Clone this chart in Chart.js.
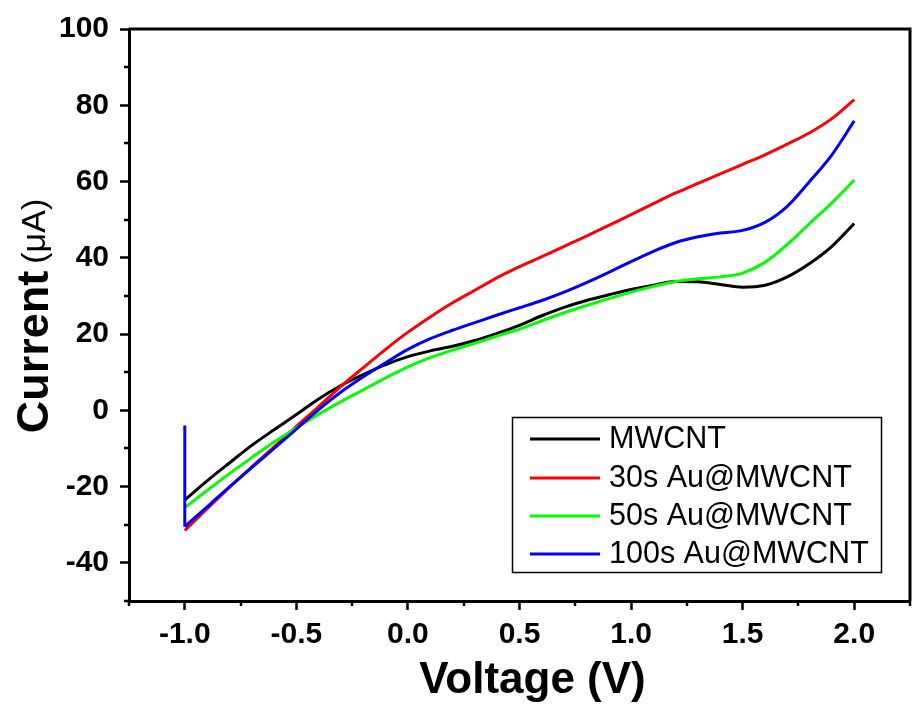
<!DOCTYPE html>
<html><head><meta charset="utf-8">
<script src="https://cdn.jsdelivr.net/npm/chart.js@4.4.1/dist/chart.umd.min.js"></script>
<style>html,body{margin:0;padding:0;background:#fff;}#wrap{width:916px;height:716px;}</style>
</head><body><div id="wrap"><canvas id="c" width="916" height="716"></canvas></div>
<script>
// ---- data ----
const voltage = [-1.0,-0.9,-0.8,-0.7,-0.6,-0.5,-0.4,-0.3,-0.2,-0.1,0.0,0.1,0.2,0.3,0.4,0.5,0.6,0.7,0.8,0.9,1.0,1.1,1.2,1.3,1.4,1.5,1.6,1.7,1.8,1.9,2.0];
const mwcnt = [-23.5,-18.5,-13.8,-9.2,-5.1,-1.1,3.0,6.5,9.4,12.0,14.1,15.6,16.8,18.3,20.2,22.3,24.8,27.0,28.8,30.3,31.7,32.8,33.8,33.7,33.0,32.3,32.8,35.0,38.5,43.0,49.0];
const au30 = [-31.5,-25.8,-20.2,-14.8,-9.6,-4.2,1.0,6.3,11.2,16.0,20.5,24.5,28.2,31.5,34.8,37.7,40.3,43.0,45.7,48.5,51.3,54.2,57.0,59.5,62.0,64.5,67.0,69.8,72.8,76.5,81.5];
const au50 = [-25.5,-21.0,-16.6,-12.4,-8.3,-4.6,-1.0,2.3,5.4,8.5,11.4,13.8,15.8,17.6,19.5,21.3,23.5,25.6,27.5,29.3,31.0,32.5,33.8,34.5,35.0,36.0,38.8,43.5,49.0,54.4,60.4];
const au100 = [-30.5,-25.3,-20.1,-15.0,-10.0,-4.9,0.2,4.8,8.8,12.5,16.0,18.8,21.0,23.0,25.0,26.9,28.8,31.0,33.5,36.2,39.0,41.7,44.0,45.5,46.5,47.2,49.3,53.5,60.0,67.0,75.9];
const au100StartV = [-1.0,-1.0];
const au100StartI = [-4.0,-30.5];
const seriesNames = ['MWCNT','30s Au@MWCNT','50s Au@MWCNT','100s Au@MWCNT'];
const seriesColors = ['#000000','#ff0000','#00ff00','#0000ff'];
const xTicks = [-1.0,-0.5,0.0,0.5,1.0,1.5,2.0];
const xMinor = [-1.25,-0.75,-0.25,0.25,0.75,1.25,1.75,2.25];
const yTicks = [-40,-20,0,20,40,60,80,100];
const yMinor = [-50,-30,-10,10,30,50,70,90];
const xTitle = 'Voltage (V)';
const yTitleMain = 'Current';
const yTitleUnit = '(\u03BCA)';

const pts = (xs, ys) => xs.map((v,i)=>({x:v,y:ys[i]}));
const seriesData = [mwcnt, au30, au50, au100];

const FONT = '"Liberation Sans", Arial, sans-serif';

const decor = {
  id:'decor',
  afterDraw(chart){
    const {ctx, chartArea:a, scales:{x,y}} = chart;
    ctx.save();
    ctx.strokeStyle = '#000';
    ctx.lineWidth = 3;
    ctx.beginPath();
    ctx.moveTo(a.left, a.top); ctx.lineTo(a.right, a.top); ctx.lineTo(a.right, a.bottom);
    ctx.stroke();
    ctx.lineWidth = 2.5;
    yMinor.forEach(v=>{const py=Math.round(y.getPixelForValue(v)); ctx.beginPath(); ctx.moveTo(a.left,py); ctx.lineTo(a.left-5,py); ctx.stroke();});
    xMinor.forEach(v=>{const px=Math.round(x.getPixelForValue(v)); ctx.beginPath(); ctx.moveTo(px,a.bottom); ctx.lineTo(px,a.bottom+5); ctx.stroke();});
    // axis titles
    ctx.fillStyle = '#000';
    ctx.textBaseline = 'middle';
    ctx.textAlign = 'center';
    ctx.font = 'bold 44px ' + FONT;
    ctx.fillText(xTitle, (a.left+a.right)/2 + 13, 681);
    ctx.save();
    ctx.translate(36, 316);
    ctx.rotate(-Math.PI/2);
    ctx.textAlign = 'left';
    const f1 = 'bold 45px ' + FONT, f2 = '34px ' + FONT;
    const gap = 7;
    ctx.font = f1; const w1 = ctx.measureText(yTitleMain).width;
    ctx.font = f2; const w2 = ctx.measureText(yTitleUnit).width;
    const sx = -(w1+gap+w2)/2;
    ctx.font = f1; ctx.fillText(yTitleMain, sx, 0);
    ctx.font = f2; ctx.fillText(yTitleUnit, sx + w1 + gap, 0);
    ctx.restore();
    // legend
    ctx.lineWidth = 1.5;
    ctx.strokeRect(512.5, 417.5, 369, 155);
    ctx.font = '30.5px ' + FONT;
    ctx.textAlign = 'left';
    const rows = [439, 478, 516, 554];
    seriesNames.forEach((n,i)=>{
      ctx.strokeStyle = seriesColors[i];
      ctx.lineWidth = 3;
      ctx.beginPath(); ctx.moveTo(530, rows[i]); ctx.lineTo(600, rows[i]); ctx.stroke();
      ctx.fillStyle = '#000';
      ctx.fillText(n, 609, rows[i] + 1);
    });
    ctx.restore();
  }
};

const main = seriesNames.map((n,i)=>({
  label:n, data:pts(voltage, seriesData[i]), borderColor:seriesColors[i], borderWidth:3,
  pointRadius:0, cubicInterpolationMode:'monotone', fill:false, order:4-i
}));
const spike = {label:'100s start', data:pts(au100StartV, au100StartI), borderColor:seriesColors[3], borderWidth:3, pointRadius:0, tension:0, fill:false, order:0};

new Chart(document.getElementById('c'), {
  type:'line',
  data:{datasets:[...main, spike]},
  options:{
    responsive:false, animation:false, devicePixelRatio:1,
    layout:{padding:{top:29, right:6, left:0, bottom:0}},
    plugins:{legend:{display:false}, tooltip:{enabled:false}},
    scales:{
      x:{type:'linear', min:-1.25, max:2.25,
        afterBuildTicks:(s)=>{s.ticks = xTicks.map(v=>({value:v}));},
        afterFit:(s)=>{s.height = 115;},
        ticks:{autoSkip:false, maxRotation:0, padding:7, color:'#000', font:{family:FONT, size:30, weight:'bold'}, callback:(v)=>Number(v).toFixed(1)},
        grid:{drawOnChartArea:false, drawTicks:true, tickLength:9, tickWidth:2.5, tickColor:'#000'},
        border:{display:true, color:'#000', width:3}
      },
      y:{type:'linear', min:-50, max:100,
        afterBuildTicks:(s)=>{s.ticks = yTicks.map(v=>({value:v}));},
        afterFit:(s)=>{s.width = 129;},
        ticks:{autoSkip:false, padding:11, color:'#000', font:{family:FONT, size:30, weight:'bold'}, callback:(v)=>String(v)},
        grid:{drawOnChartArea:false, drawTicks:true, tickLength:9, tickWidth:2.5, tickColor:'#000'},
        border:{display:true, color:'#000', width:3}
      }
    }
  },
  plugins:[decor]
});
</script></body></html>
